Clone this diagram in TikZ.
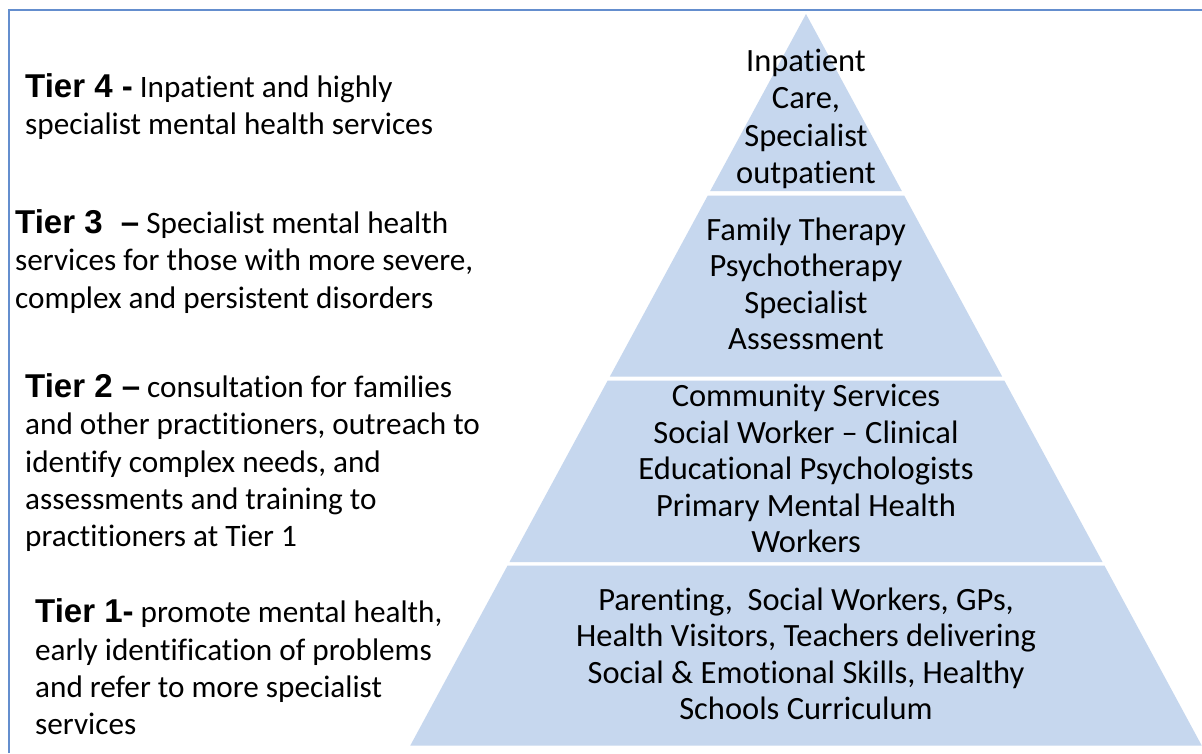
\documentclass[tikz,border=0pt]{standalone}
\usepackage{fontspec}
\setmainfont{Carlito}[Ligatures=TeX,RawFeature={-liga;-clig;-calt;-dlig}]
\newfontfamily\tierfont{Liberation Sans}[Ligatures=TeX]
\definecolor{pyrfill}{RGB}{198,215,238}
\definecolor{framecol}{RGB}{100,142,206}
\newcommand{\tierlabel}[1]{{\tierfont\bfseries\fontsize{33}{37.3}\selectfont #1}}
\begin{document}
\begin{tikzpicture}[x=1pt,y=-1pt,
  lefttext/.style={anchor=north west,inner sep=0pt,align=left,
    font=\fontsize{31.2}{37.3}\selectfont,text=black},
  pyrtext/.style={anchor=north,inner sep=0pt,align=center,
    font=\fontsize{32.5}{36.5}\selectfont,text=black},
  band/.style={fill=pyrfill,draw=none},
  framestyle/.style={draw=framecol,line width=2pt}]
\useasboundingbox (0,0) rectangle (1202,753);
\fill[white] (0,0) rectangle (1202,753);
% frame
\coordinate (fbl) at (9,753);
\coordinate (ftl) at (9,10);
\coordinate (ftr) at (1202,10);
\draw[framestyle] (fbl) -- (ftl) -- (ftr);
% pyramid bands
\fill[band] (806,14) -- (901.8,191) -- (710.2,191) -- cycle;
\fill[band] (707.8,195.5) -- (904.2,195.5) -- (1002.1,376.5) -- (609.9,376.5) -- cycle;
\fill[band] (607.7,380.5) -- (1004.3,380.5) -- (1102.5,562) -- (509.5,562) -- cycle;
\fill[band] (507.6,565.5) -- (1104.4,565.5) -- (1201.7,745.5) -- (410.3,745.5) -- cycle;
% pyramid texts
\node[pyrtext,font=\fontsize{32.5}{37.5}\selectfont] (p4) at (806,44.8)
  {\strut Inpatient\\Care,\\Specialist\\outpatient};
\node[pyrtext] (p3) at (806,214.5)
  {\strut Family Therapy\\Psychotherapy\\Specialist\\Assessment};
\node[pyrtext] (p2) at (806,381.2)
  {\strut Community Services\\Social Worker – Clinical\\Educational Psychologists\\Primary Mental Health\\Workers};
\node[pyrtext] (p1) at (806,584.5)
  {\strut Parenting,\ \ Social Workers, GPs,\\Health Visitors, Teachers delivering\\Social \& Emotional Skills, Healthy\\Schools Curriculum};
% left texts
\node[lefttext] (t4) at (25,70.9)
  {\strut\tierlabel{Tier 4 -} Inpatient and highly\\specialist mental health services};
\node[lefttext] (t3) at (15,207.2)
  {\strut\tierlabel{Tier 3~~–} Specialist mental health\\services for those with more severe,\\complex and persistent disorders};
\node[lefttext] (t2) at (25,371.2)
  {\strut\tierlabel{Tier 2 –} consultation for families\\and other practitioners, outreach to\\identify complex needs, and\\assessments and training to\\practitioners at Tier 1};
\node[lefttext] (t1) at (35,596.6)
  {\strut\tierlabel{Tier 1-} promote mental health,\\early identification of problems\\and refer to more specialist\\services};
\end{tikzpicture}
\end{document}
